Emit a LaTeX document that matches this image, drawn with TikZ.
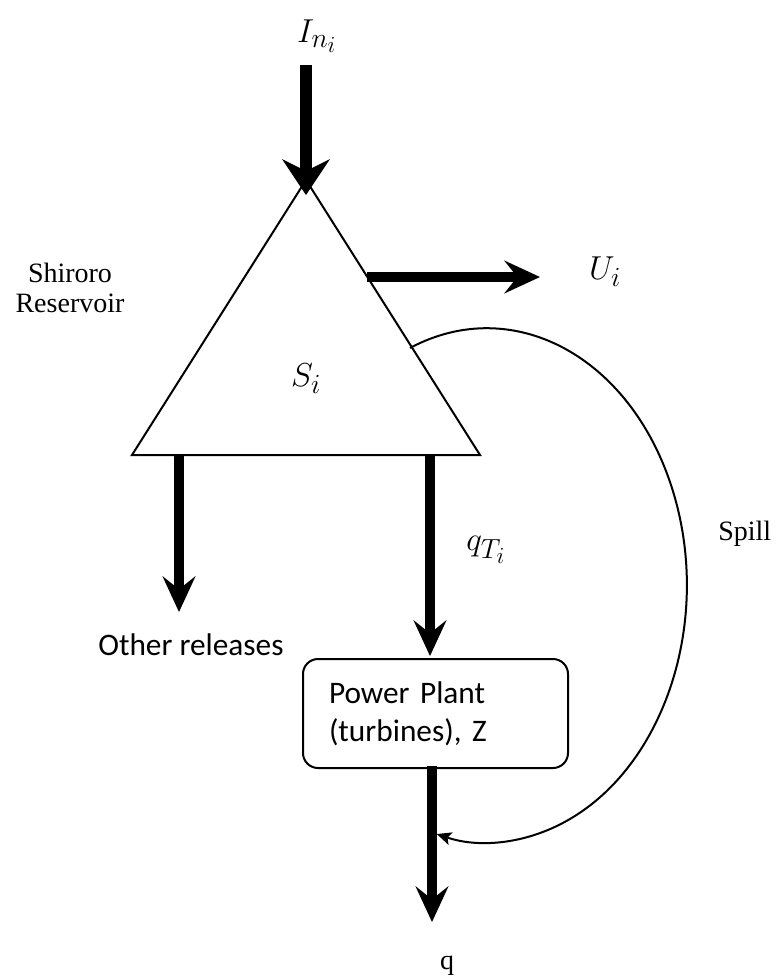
\documentclass[tikz,border=0pt]{standalone}
\usepackage{fontspec}
\setmainfont{Liberation Serif}
\newfontfamily\calfont{Carlito}
\usetikzlibrary{arrows.meta}

\begin{document}
\begin{tikzpicture}[x=0.75pt,y=0.75pt,
    flow/.style={line width=7.5pt,-{Stealth[length=27pt,width=25pt,inset=10pt,line width=0pt]}},
    outline/.style={line width=1.5pt},
    tnr/.style={font=\fontsize{21}{22.5}\selectfont},
    cal/.style={font=\calfont\fontsize{23.5}{28.5}\selectfont},
    mth/.style={font=\fontsize{24.88}{30}\selectfont}]
  \useasboundingbox (0,0) rectangle (781,-976);
  \coordinate (apex) at (306,-180);
  \coordinate (bl) at (132,-455);
  \coordinate (br) at (480,-455);
  \draw[outline, line join=miter] (apex) -- (bl) -- (br) -- cycle;
  \node[mth] (slbl) at (306,-379) {$S_i$};
  \node[tnr, align=center] (res) at (70,-288) {Shiroro\\Reservoir};

  \coordinate (intop) at (306,-65);
  \coordinate (intip) at (306,-195);
  \draw[line width=9pt,-{Stealth[length=27pt,width=36pt,inset=9pt,line width=0pt]}] (intop) -- (intip);
  \node[mth] (inlbl) at (317,-36) {$I_{n_i}$};

  \coordinate (ustart) at (367.4,-277);
  \coordinate (utip) at (540,-277);
  \draw[flow] (ustart) -- (utip);
  \node[mth] (ulbl) at (605,-272) {$U_i$};

  \coordinate (otop) at (179,-455);
  \coordinate (otip) at (179,-612);
  \draw[flow] (otop) -- (otip);
  \node[cal, anchor=base west, inner sep=0pt] (other) at (98,-655) {Other releases};

  \node[draw, line width=1.5pt, rounded corners=11.25pt, minimum width=198.75pt,
        minimum height=81.75pt, text width=159.75pt, inner xsep=19.5pt,
        align=left, cal] (plant) at (435.5,-713.5) {Power Plant\\(turbines), Z};

  \coordinate (qttop) at (430,-455);
  \coordinate (qttip) at (430,-656);
  \draw[flow] (qttop) -- (qttip);
  \node[mth] (qtlbl) at (486,-550) {$q_{T_i}$};

  \coordinate (qtop) at (432,-766);
  \coordinate (qtip) at (432,-922);
  \draw[flow] (qtop) -- (qtip);
  \node[tnr, anchor=base, inner sep=0pt] (qout) at (447,-969) {q};

  \coordinate (spillstart) at (410,-348);
  \draw[outline, -{Stealth[length=11pt,width=10pt,inset=2.5pt,line width=0pt]}]
    (spillstart) arc[start angle=112.6, end angle=-104.5, x radius=150pt, y radius=192.75pt];
  \node[tnr, anchor=base west, inner sep=0pt] (spill) at (718,-540) {Spill};
\end{tikzpicture}
\end{document}
